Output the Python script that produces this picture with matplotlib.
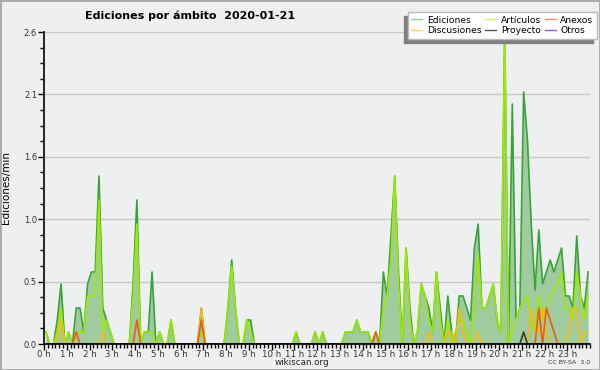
import numpy as np
import matplotlib.pyplot as plt
from matplotlib.lines import Line2D
from matplotlib.patches import Rectangle

# edits per minute, one value per 10-minute slot, 2020-01-21 (12 slots per row = 2 h)
ediciones = [
    0.1, 0, 0, 0.2, 0.5, 0, 0.1, 0, 0.3, 0.3, 0.1, 0.5,
    0.6, 0.6, 1.4, 0.3, 0.2, 0.1, 0, 0, 0, 0, 0, 0.5,
    1.2, 0, 0.1, 0.1, 0.6, 0, 0.1, 0, 0, 0.2, 0, 0,
    0, 0, 0, 0, 0, 0.3, 0, 0, 0, 0, 0, 0,
    0.3, 0.7, 0.3, 0, 0, 0.2, 0.2, 0, 0, 0, 0, 0,
    0, 0, 0, 0, 0, 0, 0.1, 0, 0, 0, 0, 0.1,
    0, 0.1, 0, 0, 0, 0, 0, 0.1, 0.1, 0.1, 0.2, 0.1,
    0.1, 0.1, 0, 0.1, 0, 0.6, 0.4, 0.9, 1.4, 0.6, 0, 0.8,
    0.3, 0, 0.1, 0.5, 0.4, 0.3, 0.1, 0.6, 0.3, 0, 0.4, 0.1,
    0, 0.4, 0.4, 0.3, 0.2, 0.8, 1.0, 0.3, 0.3, 0.4, 0.5, 0.2,
    0.1, 2.6, 0, 2.0, 0.2, 0.3, 2.1, 1.7, 1.0, 0.45, 0.95, 0.5,
    0.6, 0.7, 0.6, 0.7, 0.8, 0.4, 0.4, 0.3, 0.9, 0.4, 0.3, 0.6,
]
articulos = [
    0.1, 0, 0, 0.1, 0.3, 0, 0.1, 0, 0.1, 0.1, 0.1, 0.4,
    0.4, 0.4, 1.2, 0.1, 0.2, 0.1, 0, 0, 0, 0, 0, 0.4,
    1.0, 0, 0.1, 0.1, 0.1, 0, 0.1, 0, 0, 0.2, 0, 0,
    0, 0, 0, 0, 0, 0.1, 0, 0, 0, 0, 0, 0,
    0.3, 0.65, 0.3, 0, 0, 0.2, 0.1, 0, 0, 0, 0, 0,
    0, 0, 0, 0, 0, 0, 0.1, 0, 0, 0, 0, 0.1,
    0, 0.1, 0, 0, 0, 0, 0, 0.1, 0.1, 0.1, 0.2, 0.1,
    0.1, 0.1, 0, 0.1, 0, 0.3, 0.4, 0.7, 1.4, 0.5, 0, 0.8,
    0.2, 0, 0.1, 0.5, 0.4, 0.2, 0.1, 0.6, 0.2, 0, 0.2, 0,
    0.1, 0.2, 0.2, 0.1, 0, 0.3, 0.75, 0.3, 0.3, 0.4, 0.5, 0.2,
    0.1, 2.6, 0, 0.1, 0.2, 0.3, 0.35, 0.4, 0.2, 0.1, 0.4, 0.2,
    0.3, 0.4, 0.45, 0.5, 0.6, 0.3, 0.3, 0.2, 0.6, 0.4, 0.2, 0.4,
]
discusiones = [
    0, 0, 0, 0, 0.2, 0, 0, 0, 0, 0, 0, 0,
    0, 0, 0, 0.1, 0, 0, 0, 0, 0, 0, 0, 0,
    0, 0, 0, 0, 0, 0, 0, 0, 0, 0, 0, 0,
    0, 0, 0, 0, 0, 0.3, 0, 0, 0, 0, 0, 0,
    0, 0, 0, 0, 0, 0, 0, 0, 0, 0, 0, 0,
    0, 0, 0, 0, 0, 0, 0, 0, 0, 0, 0, 0,
    0, 0, 0, 0, 0, 0, 0, 0, 0, 0, 0, 0,
    0, 0, 0, 0, 0, 0, 0, 0, 0, 0, 0, 0,
    0, 0, 0, 0, 0, 0.1, 0, 0, 0, 0, 0.1, 0.1,
    0, 0.3, 0.1, 0, 0, 0, 0.1, 0, 0, 0, 0, 0,
    0, 0, 0, 0, 0, 0, 0, 0, 0.3, 0.1, 0.1, 0.3,
    0.1, 0, 0, 0, 0, 0, 0.1, 0.3, 0.3, 0, 0.1, 0.1,
]
anexos = [
    0, 0, 0, 0, 0, 0, 0, 0, 0.1, 0, 0, 0,
    0, 0, 0, 0, 0, 0, 0, 0, 0, 0, 0, 0,
    0.2, 0, 0, 0, 0, 0, 0, 0, 0, 0, 0, 0,
    0, 0, 0, 0, 0, 0.2, 0, 0, 0, 0, 0, 0,
    0, 0, 0, 0, 0, 0, 0, 0, 0, 0, 0, 0,
    0, 0, 0, 0, 0, 0, 0, 0, 0, 0, 0, 0,
    0, 0, 0, 0, 0, 0, 0, 0, 0, 0, 0, 0,
    0, 0, 0, 0.1, 0, 0, 0, 0, 0, 0, 0, 0,
    0, 0, 0, 0, 0, 0, 0, 0, 0, 0, 0, 0,
    0, 0, 0, 0, 0, 0, 0, 0, 0, 0, 0, 0,
    0, 0, 0, 0, 0, 0, 0, 0, 0, 0, 0.3, 0,
    0.3, 0.2, 0.1, 0, 0, 0, 0, 0, 0, 0, 0, 0,
]
proyecto = [0] * 126 + [0.1] + [0] * 17
otros = [0] * 144

series = [
    ('Ediciones', ediciones, '#38a438', '#8fd48f'),
    ('Artículos', articulos, '#9fe800', '#cdf26a'),
    ('Discusiones', discusiones, '#f2bd10', '#ffd84a'),
    ('Anexos', anexos, '#f25a14', '#ff8a55'),
    ('Proyecto', proyecto, '#3a3a3a', '#555555'),
    ('Otros', otros, '#8a3de0', '#9b55ee'),
]

slot_hours = (np.arange(len(ediciones)) + 0.5) / 6

fig = plt.figure(figsize=(6, 3.7), dpi=100, facecolor='#efefef')
ax = fig.add_axes([44 / 600, 26 / 370, 546 / 600, 312 / 370])
ax.set_facecolor('#eeeff1')

yticks = np.linspace(0, 2.6, 6)
for y in yticks[1:]:
    ax.axhline(y, color='#c8c8c8', lw=1, zorder=0)

ax.fill_between(slot_hours, ediciones, color='#9fcb9f', lw=0, zorder=1)
for name, vals, col, _ in series:
    ax.plot(slot_hours, vals, color=col, lw=1.2, zorder=2)

ax.set_xlim(0, 24)
ax.set_ylim(0, 2.6)
ax.set_yticks(yticks)
ax.set_yticklabels([f'{v:.1f}' for v in yticks])
ax.set_yticks(np.linspace(0, 2.6, 21), minor=True)
ax.set_xticks(range(24))
ax.set_xticklabels([f'{h} h' for h in range(24)])
ax.set_xticks(np.arange(0, 24.01, 1 / 6), minor=True)

for s in ['top', 'right']:
    ax.spines[s].set_visible(False)
for s in ['left', 'bottom']:
    ax.spines[s].set_linewidth(1.2)
ax.tick_params(which='major', length=4, width=1, labelsize=6.2, colors='black',
               labelcolor='#333333', pad=0.5)
ax.tick_params(which='minor', length=3, width=1)
ax.tick_params(axis='y', labelsize=6, pad=1)

ax.set_ylabel('Ediciones/min', fontsize=7.5, labelpad=9)

fig.text(0.317, 0.957, 'Ediciones por ámbito  2020-01-21', fontsize=8,
         fontweight='bold', ha='center', va='center')
fig.text(0.503, 0.021, 'wikiscan.org', fontsize=6.3, ha='center', va='center', color='#222222')
fig.text(0.983, 0.021, 'CC BY-SA  3.0', fontsize=4.5, ha='right', va='center', color='#333333')

handles = [Line2D([], [], color=lc, lw=1) for _, _, _, lc in series]
labels = [name for name, *_ in series]
order = [0, 2, 1, 4, 3, 5]
leg = fig.legend([handles[k] for k in order], [labels[k] for k in order],
                 loc='upper right', bbox_to_anchor=(0.995, 0.968), ncol=3,
                 fontsize=6.6, frameon=True, fancybox=False,
                 shadow={'ox': -3, 'oy': -3, 'color': '#808080', 'alpha': 1},
                 handlelength=1.2, handletextpad=0.5, columnspacing=0.4,
                 labelspacing=0.15, borderpad=0.4, borderaxespad=0)
leg.get_frame().set_edgecolor('#bbbbbb')
leg.get_frame().set_facecolor('white')
leg.get_frame().set_alpha(1)

fig.patches.append(Rectangle((0, 0), 1, 1, transform=fig.transFigure, fill=False,
                             edgecolor='#a8a8a8', lw=2, zorder=10))

fig.savefig('out.png', dpi=100, facecolor=fig.get_facecolor())
